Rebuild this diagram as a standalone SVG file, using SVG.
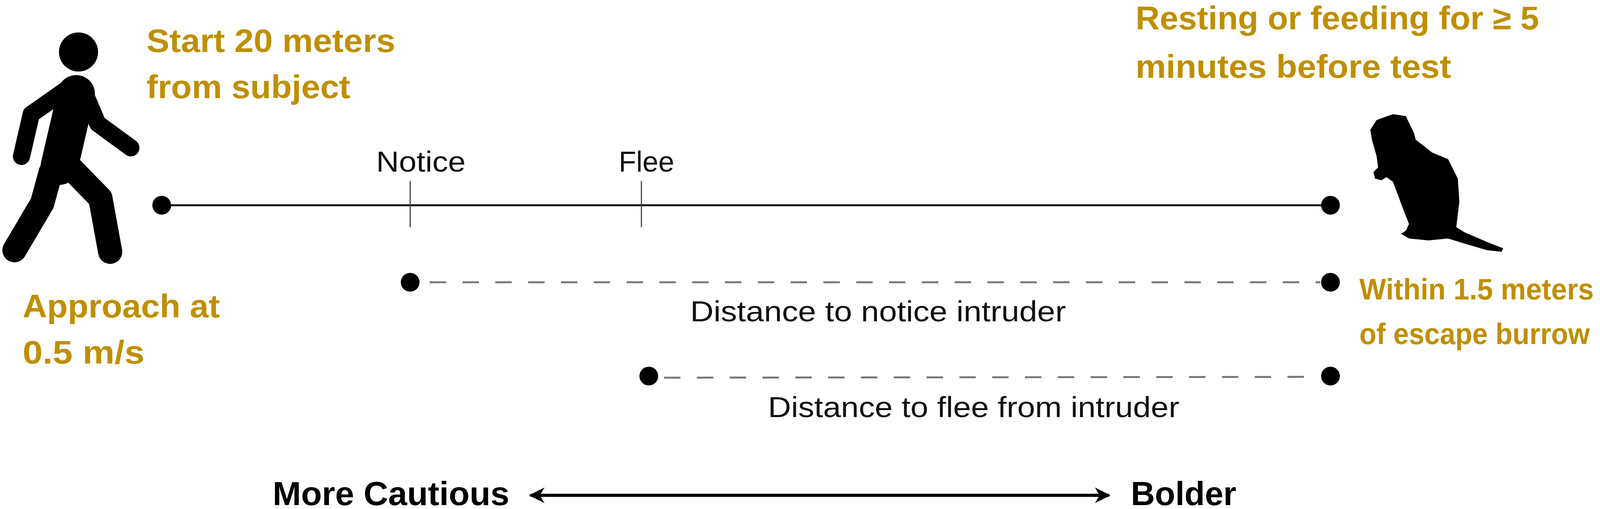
<svg xmlns="http://www.w3.org/2000/svg" width="4328" height="1302" viewBox="0 0 4328 1302">
<style>
.or{font-family:"Liberation Sans",Arial,sans-serif;font-weight:bold;font-size:84px;fill:#BF8F00}
.or2{font-family:"Liberation Sans",Arial,sans-serif;font-weight:bold;font-size:76px;fill:#BF8F00}
.lb{font-family:"Liberation Sans",Arial,sans-serif;font-size:74px;fill:#111}
.bd{font-family:"Liberation Sans",Arial,sans-serif;font-weight:bold;font-size:86px;fill:#000}
.dash{stroke:#777;stroke-width:5;stroke-dasharray:42 42;fill:none}
.tick{stroke:#444;stroke-width:3}
.limb{stroke:#000;fill:none;stroke-linecap:round;stroke-linejoin:round}
</style>
<defs>
<marker id="ah" viewBox="0 0 10 10" refX="9" refY="5" markerWidth="5" markerHeight="5" orient="auto-start-reverse" markerUnits="strokeWidth">
<path d="M0,0 L10,5 L0,10 L3,5 Z" fill="#000"/>
</marker>
</defs>
<g id="person">
<circle cx="201" cy="133" r="50" fill="#000"/>
<path class="limb" stroke-width="96" d="M195,240 L152,425"/>
<path class="limb" stroke-width="44" d="M180,222 L80,292 L55,400"/>
<path class="limb" stroke-width="44" d="M210,222 L250,316 L335,378"/>
<path class="limb" stroke-width="62" d="M130,440 L108,520 L37,640"/>
<path class="limb" stroke-width="62" d="M170,418 L257,507 L282,644"/>
</g>
<g id="marmot">
<path fill="#000" d="M3524,307 L3566,292 L3599,297 L3620,341 L3624,357 L3666,390 L3707,407 L3732,457 L3736,515 L3728,581 L3749,594 L3807,619 L3848,635 L3844,644 L3807,640 L3749,623 L3707,610 L3657,615 L3607,610 L3587,598 L3599,590 L3607,573 L3591,532 L3566,465 L3549,453 L3537,461 L3520,457 L3516,440 L3528,428 L3524,399 L3512,357 L3508,332 Z"/>
</g>
<g id="labels">
<text class="or" x="375" y="133" textLength="637" lengthAdjust="spacingAndGlyphs">Start 20 meters</text>
<text class="or" x="375" y="251" textLength="522" lengthAdjust="spacingAndGlyphs">from subject</text>
<text class="or" x="58" y="812" textLength="505" lengthAdjust="spacingAndGlyphs">Approach at</text>
<text class="or" x="58" y="930" textLength="312" lengthAdjust="spacingAndGlyphs">0.5 m/s</text>
<text class="or" x="2907" y="75" textLength="1033" lengthAdjust="spacingAndGlyphs">Resting or feeding for ≥ 5</text>
<text class="or" x="2907" y="199" textLength="808" lengthAdjust="spacingAndGlyphs">minutes before test</text>
<text class="or2" x="3480" y="766" textLength="600" lengthAdjust="spacingAndGlyphs">Within 1.5 meters</text>
<text class="or2" x="3480" y="880" textLength="590" lengthAdjust="spacingAndGlyphs">of escape burrow</text>
<text class="lb" x="963" y="439" textLength="229" lengthAdjust="spacingAndGlyphs">Notice</text>
<text class="lb" x="1584" y="439" textLength="142" lengthAdjust="spacingAndGlyphs">Flee</text>
<text class="lb" x="1767" y="822" textLength="962" lengthAdjust="spacingAndGlyphs">Distance to notice intruder</text>
<text class="lb" x="1966" y="1067" textLength="1053" lengthAdjust="spacingAndGlyphs">Distance to flee from intruder</text>
<text class="bd" x="698" y="1292" textLength="606" lengthAdjust="spacingAndGlyphs">More Cautious</text>
<text class="bd" x="2895" y="1292" textLength="270" lengthAdjust="spacingAndGlyphs">Bolder</text>
</g>
<g id="connectors">
<line x1="414" y1="525" x2="3406" y2="525" stroke="#111" stroke-width="5"/>
<line class="tick" x1="1050" y1="463" x2="1050" y2="581"/>
<line class="tick" x1="1642" y1="463" x2="1642" y2="581"/>
<circle cx="414" cy="525" r="24"/>
<circle cx="3406" cy="525" r="24"/>
<line class="dash" x1="1100" y1="722" x2="3380" y2="722"/>
<circle cx="1050" cy="722" r="24"/>
<circle cx="3406" cy="722" r="24"/>
<line class="dash" x1="1700" y1="966" x2="3380" y2="964"/>
<circle cx="1661" cy="962" r="24"/>
<circle cx="3406" cy="962" r="24"/>
<line x1="1358" y1="1267" x2="2839" y2="1267" stroke="#000" stroke-width="8" marker-start="url(#ah)" marker-end="url(#ah)"/>
</g>
</svg>
